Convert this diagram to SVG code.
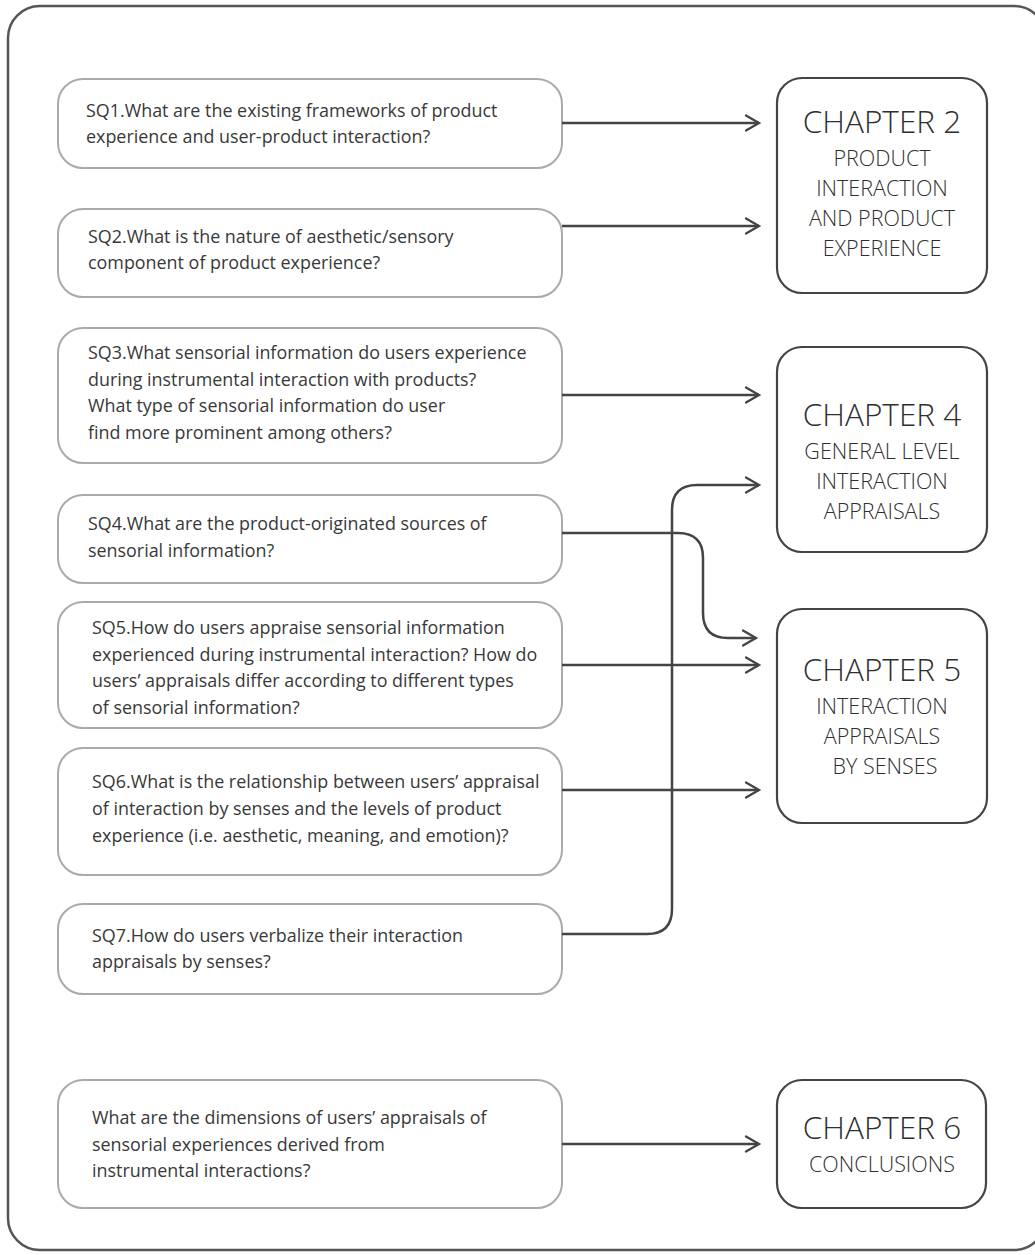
<svg xmlns="http://www.w3.org/2000/svg" width="1035" height="1255" viewBox="0 0 1035 1255">
  <style>
    .frame { fill: #fff; stroke: #555; stroke-width: 2.5; }
    .sq { fill: #fff; stroke: #aaa; stroke-width: 2; }
    .ch { fill: #fff; stroke: #444; stroke-width: 2.2; }
    .q { font-family: "Open Sans", "Noto Sans", sans-serif; font-size: 17.9px; fill: #383838; }
    .ct { font-family: "Open Sans", "Noto Sans", sans-serif; font-size: 31.5px; font-weight: 300; fill: #2e2e2e; text-anchor: middle; }
    .cs { font-family: "Open Sans", "Noto Sans", sans-serif; font-size: 21.5px; font-weight: 300; fill: #2e2e2e; text-anchor: middle; }
    .link { fill: none; stroke: #444; stroke-width: 2.5; marker-end: url(#chevron); }
  </style>
  <defs>
    <marker id="chevron" markerUnits="userSpaceOnUse" markerWidth="20" markerHeight="20" viewBox="-16 -10 20 20" refX="0" refY="0" orient="auto" overflow="visible">
      <path d="M-13,-7.5 L0,0 L-13,7.5" fill="none" stroke="#444" stroke-width="2.3" stroke-linecap="round" stroke-linejoin="miter"/>
    </marker>
  </defs>

  <rect class="frame" x="8" y="6" width="1038" height="1244" rx="32"/>

  <!-- sub-questions -->
  <g id="sq1">
    <rect class="sq" x="58" y="79" width="504" height="89" rx="25"/>
    <text class="q" x="86" y="117">SQ1.What are the existing frameworks of product</text>
    <text class="q" x="86" y="143">experience and user-product interaction?</text>
  </g>
  <g id="sq2">
    <rect class="sq" x="58" y="209" width="504" height="88" rx="25"/>
    <text class="q" x="88" y="243">SQ2.What is the nature of aesthetic/sensory</text>
    <text class="q" x="88" y="269">component of product experience?</text>
  </g>
  <g id="sq3">
    <rect class="sq" x="58" y="328" width="504" height="135" rx="25"/>
    <text class="q" x="88" y="359">SQ3.What sensorial information do users experience</text>
    <text class="q" x="88" y="386">during instrumental interaction with products?</text>
    <text class="q" x="88" y="412">What type of sensorial information do user</text>
    <text class="q" x="88" y="439">find more prominent among others?</text>
  </g>
  <g id="sq4">
    <rect class="sq" x="58" y="495" width="504" height="88" rx="25"/>
    <text class="q" x="88" y="530">SQ4.What are the product-originated sources of</text>
    <text class="q" x="88" y="557">sensorial information?</text>
  </g>
  <g id="sq5">
    <rect class="sq" x="58" y="602" width="504" height="126" rx="25"/>
    <text class="q" x="92" y="634">SQ5.How do users appraise sensorial information</text>
    <text class="q" x="92" y="661">experienced during instrumental interaction? How do</text>
    <text class="q" x="92" y="687">users’ appraisals differ according to different types</text>
    <text class="q" x="92" y="714">of sensorial information?</text>
  </g>
  <g id="sq6">
    <rect class="sq" x="58" y="748" width="504" height="127" rx="25"/>
    <text class="q" x="92" y="788">SQ6.What is the relationship between users’ appraisal</text>
    <text class="q" x="92" y="815">of interaction by senses and the levels of product</text>
    <text class="q" x="92" y="842">experience (i.e. aesthetic, meaning, and emotion)?</text>
  </g>
  <g id="sq7">
    <rect class="sq" x="58" y="904" width="504" height="90" rx="25"/>
    <text class="q" x="92" y="942">SQ7.How do users verbalize their interaction</text>
    <text class="q" x="92" y="968">appraisals by senses?</text>
  </g>
  <g id="main-question">
    <rect class="sq" x="58" y="1080" width="504" height="128" rx="25"/>
    <text class="q" x="92" y="1124">What are the dimensions of users’ appraisals of</text>
    <text class="q" x="92" y="1151">sensorial experiences derived from</text>
    <text class="q" x="92" y="1177">instrumental interactions?</text>
  </g>

  <!-- chapters -->
  <g id="chapter2">
    <rect class="ch" x="777" y="78" width="210" height="215" rx="25"/>
    <text class="ct" x="882" y="133">CHAPTER 2</text>
    <text class="cs" x="882" y="166">PRODUCT</text>
    <text class="cs" x="882" y="196">INTERACTION</text>
    <text class="cs" x="882" y="226">AND PRODUCT</text>
    <text class="cs" x="882" y="256">EXPERIENCE</text>
  </g>
  <g id="chapter4">
    <rect class="ch" x="777" y="347" width="210" height="205" rx="25"/>
    <text class="ct" x="882" y="426">CHAPTER 4</text>
    <text class="cs" x="882" y="459">GENERAL LEVEL</text>
    <text class="cs" x="882" y="489">INTERACTION</text>
    <text class="cs" x="882" y="519">APPRAISALS</text>
  </g>
  <g id="chapter5">
    <rect class="ch" x="777" y="609" width="210" height="214" rx="25"/>
    <text class="ct" x="882" y="681">CHAPTER 5</text>
    <text class="cs" x="882" y="714">INTERACTION</text>
    <text class="cs" x="882" y="744">APPRAISALS</text>
    <text class="cs" x="885" y="774">BY SENSES</text>
  </g>
  <g id="chapter6">
    <rect class="ch" x="777" y="1080" width="209" height="128" rx="25"/>
    <text class="ct" x="882" y="1139">CHAPTER 6</text>
    <text class="cs" x="882" y="1172">CONCLUSIONS</text>
  </g>

  <!-- connectors -->
  <g id="connectors">
    <path class="link" d="M562,123 H759"/>
    <path class="link" d="M562,226 H759"/>
    <path class="link" d="M562,395 H759"/>
    <path class="link" d="M562,533 H678 Q703,533 703,558 V613 Q703,638 728,638 H756"/>
    <path class="link" d="M562,665 H759"/>
    <path class="link" d="M562,790 H759"/>
    <path class="link" d="M562,934 H647 Q672,934 672,909 V510 Q672,485 697,485 H759"/>
    <path class="link" d="M562,1144 H759"/>
  </g>
</svg>
